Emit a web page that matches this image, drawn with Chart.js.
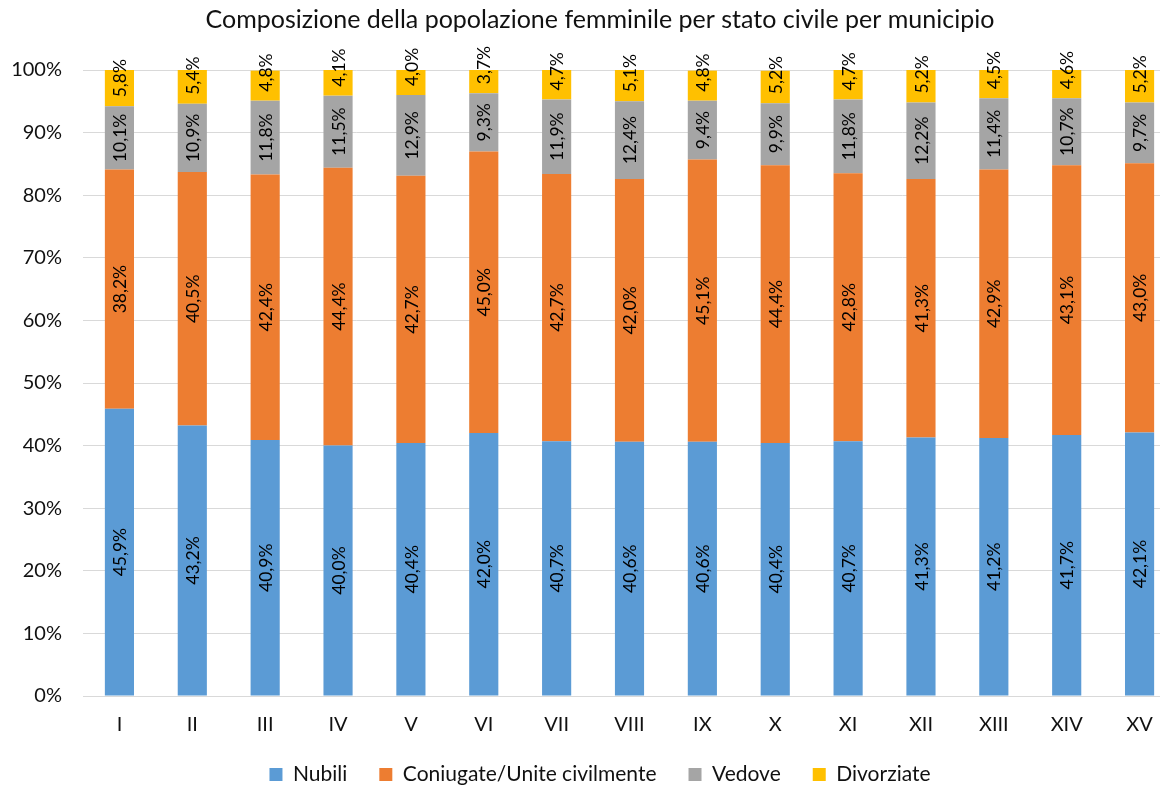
<!DOCTYPE html>
<html>
<head>
<meta charset="utf-8">
<script src="https://cdn.jsdelivr.net/npm/chart.js@4.4.1/dist/chart.umd.min.js"></script>
<style>
  html, body { margin: 0; padding: 0; background: #fff; overflow: hidden; }
  canvas { display: block; }
</style>
</head>
<body>
<canvas id="grafico" width="1200" height="795"></canvas>
<script>
const municipi = ["I", "II", "III", "IV", "V", "VI", "VII", "VIII", "IX", "X", "XI", "XII", "XIII", "XIV", "XV"];
const nubili = [45.9, 43.2, 40.9, 40.0, 40.4, 42.0, 40.7, 40.6, 40.6, 40.4, 40.7, 41.3, 41.2, 41.7, 42.1];
const coniugate = [38.2, 40.5, 42.4, 44.4, 42.7, 45.0, 42.7, 42.0, 45.1, 44.4, 42.8, 41.3, 42.9, 43.1, 43.0];
const vedove = [10.1, 10.9, 11.8, 11.5, 12.9, 9.3, 11.9, 12.4, 9.4, 9.9, 11.8, 12.2, 11.4, 10.7, 9.7];
const divorziate = [5.8, 5.4, 4.8, 4.1, 4.0, 3.7, 4.7, 5.1, 4.8, 5.2, 4.7, 5.2, 4.5, 4.6, 5.2];
const tickPercentuali = [0, 10, 20, 30, 40, 50, 60, 70, 80, 90, 100];

const FONT = "Lato";
const testo = "#111";

// etichette ruotate dentro le barre, come in Excel
const etichette = {
  id: "etichette",
  afterDatasetsDraw(chart) {
    const ctx = chart.ctx;
    ctx.save();
    ctx.font = "17.5px " + FONT;
    ctx.fillStyle = "#000";
    ctx.textAlign = "center";
    ctx.textBaseline = "middle";
    const ultimo = chart.data.datasets.length - 1;
    chart.data.datasets.forEach((ds, i) => {
      const meta = chart.getDatasetMeta(i);
      meta.data.forEach((bar, j) => {
        const txt = ds.data[j].toFixed(1).replace(".", ",") + "%";
        const w = ctx.measureText(txt).width;
        let cy = (bar.y + bar.base) / 2;
        if (i === ultimo) cy = bar.base - 9 - w / 2;
        ctx.save();
        ctx.translate(bar.x + 1, cy);
        ctx.rotate(-Math.PI / 2);
        ctx.fillText(txt, 0, 0);
        ctx.restore();
      });
    });
    ctx.restore();
  }
};

new Chart(document.getElementById("grafico"), {
  type: "bar",
  data: {
    labels: municipi,
    datasets: [
      { label: "Nubili", data: nubili, backgroundColor: "#5B9BD5" },
      { label: "Coniugate/Unite civilmente", data: coniugate, backgroundColor: "#ED7D31" },
      { label: "Vedove", data: vedove, backgroundColor: "#A5A5A5" },
      { label: "Divorziate", data: divorziate, backgroundColor: "#FFC000" }
    ]
  },
  options: {
    responsive: false,
    animation: false,
    layout: { padding: 0 },
    datasets: { bar: { barPercentage: 0.4, categoryPercentage: 1.0 } },
    plugins: {
      title: {
        display: true,
        text: "Composizione della popolazione femminile per stato civile per municipio",
        color: testo,
        font: { family: FONT, size: 25, weight: "normal" },
        padding: { top: 5, bottom: 35 }
      },
      legend: {
        position: "bottom",
        labels: {
          color: testo,
          font: { family: FONT, size: 21 },
          boxWidth: 13,
          boxHeight: 13,
          padding: 32
        }
      },
      tooltip: { enabled: false }
    },
    scales: {
      x: {
        stacked: true,
        grid: { display: false, drawTicks: false },
        border: { display: true, color: "#D9D9D9", width: 1 },
        ticks: { color: testo, font: { family: FONT, size: 20 }, padding: 17, maxRotation: 0 },
        afterFit(s) { s.height = 36; }
      },
      y: {
        stacked: true,
        min: 0,
        max: 100,
        grid: { color: "#D9D9D9", lineWidth: 1, drawTicks: false },
        border: { display: false },
        afterBuildTicks(s) { s.ticks = tickPercentuali.map(v => ({ value: v })); },
        ticks: {
          color: testo,
          font: { family: FONT, size: 20 },
          padding: 21,
          callback: v => v + "%"
        },
        afterFit(s) { s.width = 83; }
      },
      destra: {
        position: "right",
        display: true,
        grid: { display: false, drawTicks: false },
        border: { display: false },
        ticks: { display: false },
        afterFit(s) { s.width = 24; }
      }
    }
  },
  plugins: [etichette]
});
</script>
</body>
</html>
